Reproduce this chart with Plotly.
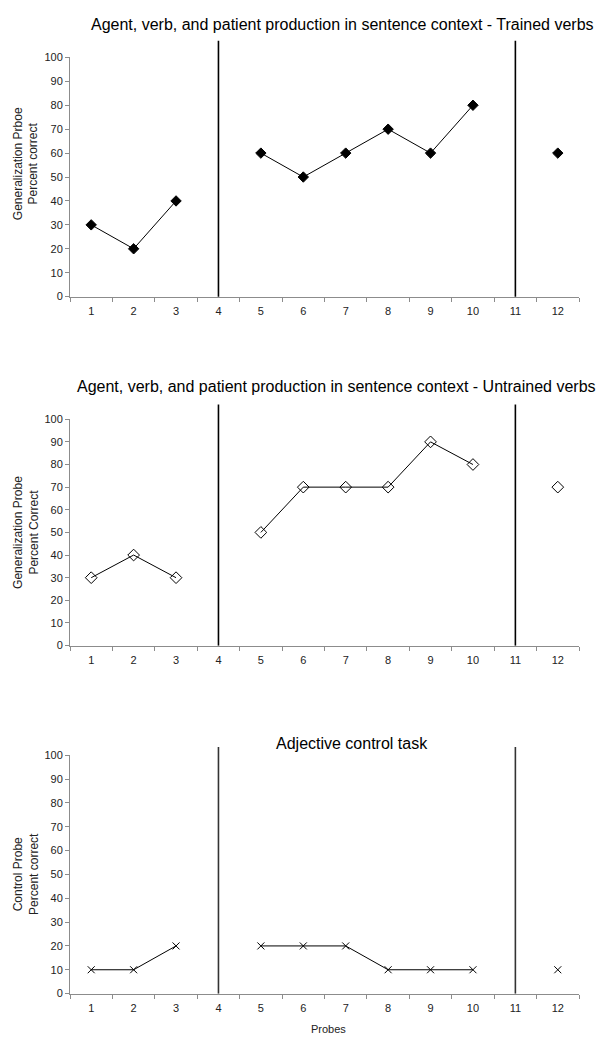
import plotly.graph_objects as go

probes = list(range(1, 13))
probe_labels = [str(p) for p in probes]
trained_verbs = [30, 20, 40, None, 60, 50, 60, 70, 60, 80, None, 60]
untrained_verbs = [30, 40, 30, None, 50, 70, 70, 70, 90, 80, None, 70]
adjective_control = [10, 10, 20, None, 20, 20, 20, 10, 10, 10, None, 10]
phase_lines = [4, 11]
y_ticks = list(range(0, 101, 10))

titles = [
    "Agent, verb, and patient production in sentence context - Trained verbs",
    "Agent, verb, and patient production in sentence context - Untrained verbs",
    "Adjective control task",
]
y_titles = [
    "Generalization Prboe<br>Percent correct",
    "Generalization Probe<br>Percent Correct",
    "Control Probe<br>Percent correct",
]

W, H = 604, 1050
FONT = "Liberation Sans, Arial, sans-serif"
AX = "#8c8c8c"

# pixel layout
x_left, x_right = 70, 579
panels_px = [(52, 294), (418, 647), (758, 999)]
title_px = [(342, 19), (336, 385), (352, 746)]
ytitle_cy = [160, 533, 878]
line_top = [1.07, 1.065, 1.035]

fig = go.Figure()

series = [trained_verbs, untrained_verbs, adjective_control]
markers = [
    dict(symbol="diamond", size=8, color="black", line=dict(color="black", width=1)),
    dict(symbol="diamond-open", size=9, color="black", line=dict(color="black", width=1)),
    dict(symbol="x-thin-open", size=7, color="black", line=dict(color="black", width=1)),
]

for i in range(3):
    xa = "x" if i == 0 else f"x{i+1}"
    ya = "y" if i == 0 else f"y{i+1}"
    fig.add_trace(go.Scatter(
        x=probes, y=series[i], mode="lines+markers",
        line=dict(color="black", width=1), marker=markers[i],
        connectgaps=False, showlegend=False, xaxis=xa, yaxis=ya, cliponaxis=False,
    ))
    top, bot = panels_px[i]
    dom_y = [1 - bot / H, 1 - top / H]
    xkey = "xaxis" if i == 0 else f"xaxis{i+1}"
    ykey = "yaxis" if i == 0 else f"yaxis{i+1}"
    fig.update_layout(**{
        xkey: dict(
            domain=[x_left / W, x_right / W], range=[0.5, 12.5], anchor=ya,
            tickmode="array", tickvals=probes, ticktext=probe_labels, ticks="",
            ticklabelstandoff=4,
            showgrid=False, zeroline=False, showline=True, linecolor=AX, linewidth=1,
            tickfont=dict(family=FONT, size=11, color="#222"),
            minor=dict(tickmode="array", tickvals=[p + 0.5 for p in [0] + probes],
                       ticks="outside", ticklen=4, tickcolor=AX, showgrid=False),
            fixedrange=True,
        ),
        ykey: dict(
            domain=dom_y, range=[0, 100], anchor=xa,
            tickmode="array", tickvals=y_ticks, ticks="outside", ticklen=4,
            tickcolor=AX, showgrid=False, zeroline=False, showline=True,
            linecolor=AX, linewidth=1,
            tickfont=dict(family=FONT, size=11, color="#222"),
            fixedrange=True,
        ),
    })
    for p in phase_lines:
        fig.add_shape(type="line", xref=xa, x0=p, x1=p,
                      yref=f"{ya} domain", y0=0, y1=line_top[i],
                      line=dict(color="black" if i < 2 else "#333", width=1.6))
    tx, ty = title_px[i]
    fig.add_annotation(text=titles[i], xref="paper", yref="paper",
                       x=tx / W, y=1 - ty / H, xanchor="center", yanchor="middle",
                       showarrow=False, font=dict(family=FONT, size=16, color="black"))
    fig.add_annotation(text=y_titles[i], xref="paper", yref="paper",
                       x=26 / W, y=1 - ytitle_cy[i] / H, xanchor="center", yanchor="middle",
                       textangle=-90, showarrow=False,
                       font=dict(family=FONT, size=12, color="#222"))

fig.add_annotation(text="Probes", xref="paper", yref="paper",
                   x=328 / W, y=1 - 1035 / H, xanchor="center", yanchor="middle",
                   showarrow=False, font=dict(family=FONT, size=11, color="#222"))

fig.update_layout(width=W, height=H, margin=dict(l=0, r=0, t=0, b=0),
                  paper_bgcolor="white", plot_bgcolor="white", hovermode=False)

fig.write_html("out.html", config={"displayModeBar": False, "staticPlot": True},
               post_script="document.body.style.margin='0px';")
